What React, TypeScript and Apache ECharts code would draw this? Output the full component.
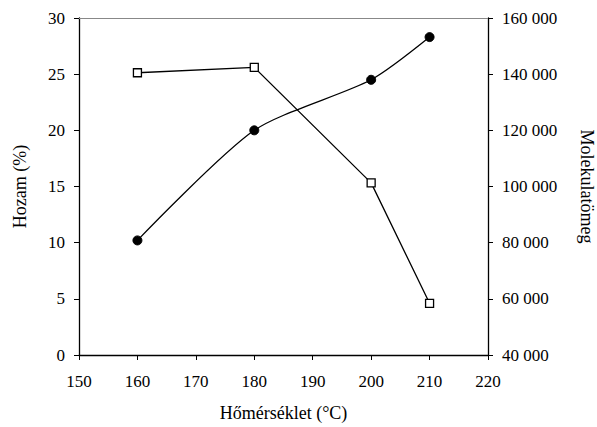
import React, { useEffect, useRef } from "react";
import * as echarts from "echarts";

const temps = [160, 180, 200, 210];
const yieldPct = [10.2, 20.0, 24.5, 28.3];
const molWeight = [140500, 142400, 101300, 58400];

const FONT = "'Liberation Serif', 'Times New Roman', Times, serif";

export default function App() {
  const ref = useRef<HTMLDivElement>(null);
  useEffect(() => {
    const chart = echarts.init(ref.current!, null, { renderer: "svg" });
    const fmt = (v: number) => {
      const s = String(Math.round(v));
      return s.replace(/\B(?=(\d{3})+(?!\d))/g, " ");
    };
    const tick = { fontFamily: FONT, fontSize: 17, color: "#000" };
    const nameTxt = { fontFamily: FONT, fontSize: 18, color: "#000" };
    chart.setOption({
      animation: false,
      backgroundColor: "#fff",
      textStyle: { fontFamily: FONT },
      grid: { left: 79, top: 18, right: 109, bottom: 72, containLabel: false, outerBoundsMode: "none" },
      xAxis: [
        {
          type: "value",
          min: 150,
          max: 220,
          interval: 10,
          name: "Hőmérséklet (°C)",
          nameLocation: "middle",
          nameGap: 49,
          nameTextStyle: nameTxt,
          axisLine: { lineStyle: { color: "#000", width: 1.3 } },
          axisTick: { inside: false, length: 5, lineStyle: { color: "#000" } },
          axisLabel: { ...tick, margin: 18 },
          splitLine: { show: false },
        },
        {
          type: "value",
          position: "top",
          min: 150,
          max: 220,
          axisLine: { show: true, lineStyle: { color: "#888", width: 1 } },
          axisTick: { show: false },
          axisLabel: { show: false },
          splitLine: { show: false },
        },
      ],
      yAxis: [
        {
          type: "value",
          min: 0,
          max: 30,
          interval: 5,
          name: "Hozam (%)",
          nameLocation: "middle",
          nameGap: 50,
          nameRotate: 90,
          nameTextStyle: nameTxt,
          axisLine: { show: true, lineStyle: { color: "#000", width: 1.3 } },
          axisTick: { show: true, length: 5, lineStyle: { color: "#000" } },
          axisLabel: { ...tick, margin: 14 },
          splitLine: { show: false },
        },
        {
          type: "value",
          min: 40000,
          max: 160000,
          interval: 20000,
          position: "right",
          name: "Molekulatömeg",
          nameLocation: "middle",
          nameGap: 90,
          nameRotate: -90,
          nameTextStyle: nameTxt,
          axisLine: { show: true, lineStyle: { color: "#000", width: 1.3 } },
          axisTick: { show: true, length: 5, lineStyle: { color: "#000" } },
          axisLabel: { ...tick, margin: 14, formatter: fmt },
          splitLine: { show: false },
        },
      ],
      series: [
        {
          type: "line",
          xAxisIndex: 0,
          yAxisIndex: 0,
          data: temps.map((t, i) => [t, yieldPct[i]]),
          smooth: 0.25,
          symbol: "circle",
          symbolSize: 9,
          lineStyle: { color: "#000", width: 1.3 },
          itemStyle: { color: "#000", borderColor: "#000" },
        },
        {
          type: "line",
          xAxisIndex: 0,
          yAxisIndex: 1,
          data: temps.map((t, i) => [t, molWeight[i]]),
          symbol: "rect",
          symbolSize: 8,
          lineStyle: { color: "#000", width: 1.3 },
          itemStyle: { color: "#fff", borderColor: "#000", borderWidth: 1.3 },
        },
      ],
    });
    return () => chart.dispose();
  }, []);
  return <div ref={ref} style={{ width: 597, height: 427, position: "absolute", left: 0, top: 0 }} />;
}
